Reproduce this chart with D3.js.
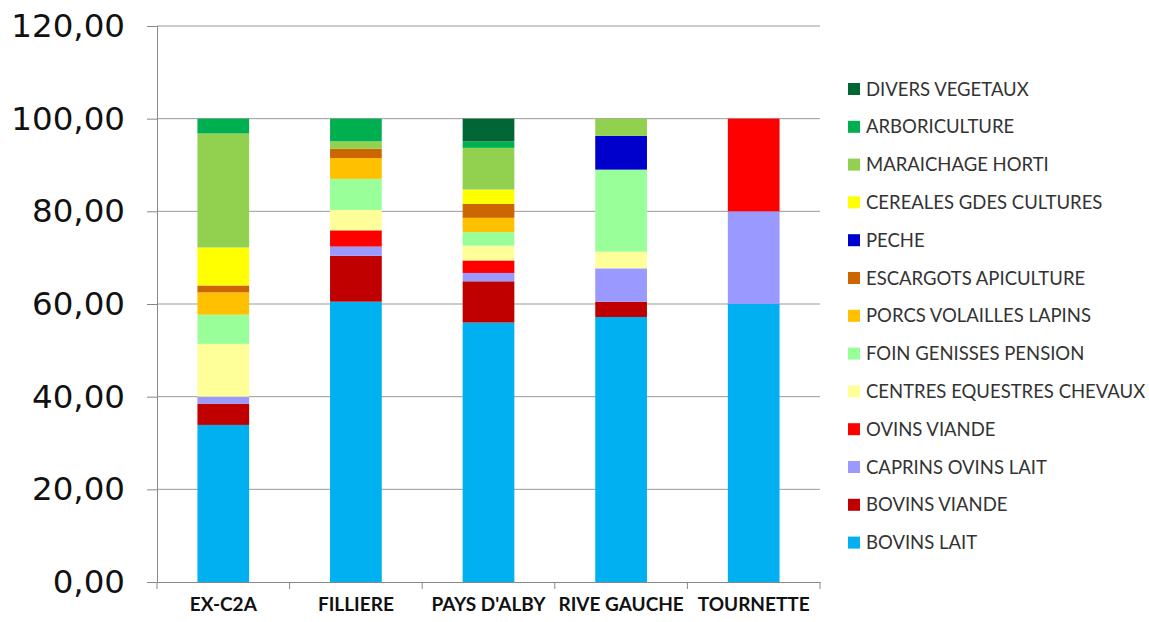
<!DOCTYPE html>
<html><head><meta charset="utf-8">
<script src="https://cdn.jsdelivr.net/npm/d3@7"></script>
<style>body{margin:0;background:#fff}svg{display:block}</style>
</head><body>
<svg id="c" width="1149" height="622"></svg>
<script>
const categories = ["EX-C2A", "FILLIERE", "PAYS D'ALBY", "RIVE GAUCHE", "TOURNETTE"];
const seriesNames = ["BOVINS LAIT","BOVINS VIANDE","CAPRINS OVINS LAIT","OVINS VIANDE","CENTRES EQUESTRES CHEVAUX","FOIN GENISSES PENSION","PORCS VOLAILLES LAPINS","ESCARGOTS APICULTURE","PECHE","CEREALES GDES CULTURES","MARAICHAGE HORTI","ARBORICULTURE","DIVERS VEGETAUX"];
const seriesColors = ["#00B0F0","#C00000","#9999FF","#FF0000","#FFFF99","#99FF99","#FFC000","#CC6600","#0000CC","#FFFF00","#92D050","#00B050","#006633"];
const bovinsLait   = [33.9, 60.5, 56.0, 57.2, 60.0];
const bovinsViande = [4.6, 9.9, 8.9, 3.3, 0];
const caprinsOvinsLait = [1.5, 2.0, 1.8, 7.2, 20.0];
const ovinsViande  = [0, 3.5, 2.7, 0, 20.0];
const centresEquestres = [11.4, 4.4, 3.2, 3.6, 0];
const foinGenisses = [6.3, 6.7, 2.9, 17.7, 0];
const porcsVolailles = [4.8, 4.5, 3.1, 0, 0];
const escargots    = [1.5, 2.0, 3.0, 0, 0];
const peche        = [0, 0, 0, 7.3, 0];
const cereales     = [8.2, 0, 3.1, 0, 0];
const maraichage   = [24.6, 1.6, 9.0, 3.7, 0];
const arboriculture = [3.2, 4.9, 1.4, 0, 0];
const diversVegetaux = [0, 0, 4.9, 0, 0];
const yTicks = [0, 20, 40, 60, 80, 100, 120];

const seriesValues = [bovinsLait,bovinsViande,caprinsOvinsLait,ovinsViande,centresEquestres,foinGenisses,porcsVolailles,escargots,peche,cereales,maraichage,arboriculture,diversVegetaux];

const rows = categories.map((c,i)=>{const r={cat:c}; seriesNames.forEach((s,j)=>r[s]=seriesValues[j][i]); return r;});
const stacked = d3.stack().keys(seriesNames)(rows);

const svg = d3.select("#c");
const x = d3.scaleBand().domain(categories).range([157, 820]).padding(0);
const y = d3.scaleLinear().domain([0,120]).range([582, 26]);
const barW = x.bandwidth()*0.39;

// gridlines
svg.append("g").selectAll("line").data(yTicks.filter(d=>d>0)).join("line")
  .attr("x1",157).attr("x2",820).attr("y1",d=>y(d)).attr("y2",d=>y(d))
  .attr("stroke","#999").attr("stroke-width",1);

// bars
svg.append("g").selectAll("g").data(stacked).join("g")
  .attr("fill",(d,i)=>seriesColors[i])
  .selectAll("rect").data(d=>d).join("rect")
  .attr("x",d=>x(d.data.cat)+(x.bandwidth()-barW)/2)
  .attr("width",barW)
  .attr("y",d=>y(d[1]))
  .attr("height",d=>Math.max(0,y(d[0])-y(d[1])));

// y axis
const yAxis = svg.append("g").attr("transform","translate(157,0)")
  .call(d3.axisLeft(y).tickValues(yTicks).tickSize(10).tickPadding(22)
     .tickFormat(d=>d3.format(".2f")(d).replace(".",",")));
yAxis.select(".domain").attr("stroke","#888");
yAxis.selectAll(".tick line").attr("stroke","#888");
yAxis.selectAll("text").attr("font-family","DejaVu Sans, Verdana, sans-serif").attr("font-size",32.5).attr("fill","#111");

// x axis
const xAxis = svg.append("g").attr("transform","translate(0,582)")
  .call(d3.axisBottom(x).tickSize(0).tickPadding(16));
xAxis.select(".domain").attr("stroke","#888");
xAxis.selectAll("text").attr("font-family","Lato, sans-serif").attr("font-weight","bold").attr("font-size",19).attr("fill","#111");
svg.append("g").selectAll("line").data(categories.concat([null])).join("line")
  .attr("x1",(d,i)=>157+i*x.step()).attr("x2",(d,i)=>157+i*x.step())
  .attr("y1",582).attr("y2",589).attr("stroke","#888");

// legend
const legendOrder = seriesNames.map((s,i)=>i).reverse();
const lg = svg.append("g").selectAll("g").data(legendOrder).join("g")
  .attr("transform",(d,k)=>`translate(848,${89+k*37.8})`);
lg.append("rect").attr("x",0).attr("y",-6).attr("width",12).attr("height",12).attr("fill",d=>seriesColors[d]);
lg.append("text").attr("x",18).attr("y",0).attr("dy","0.36em")
  .attr("font-family","Lato, sans-serif").attr("font-size",18.5).attr("fill","#333")
  .text(d=>seriesNames[d]);
</script>
</body></html>
